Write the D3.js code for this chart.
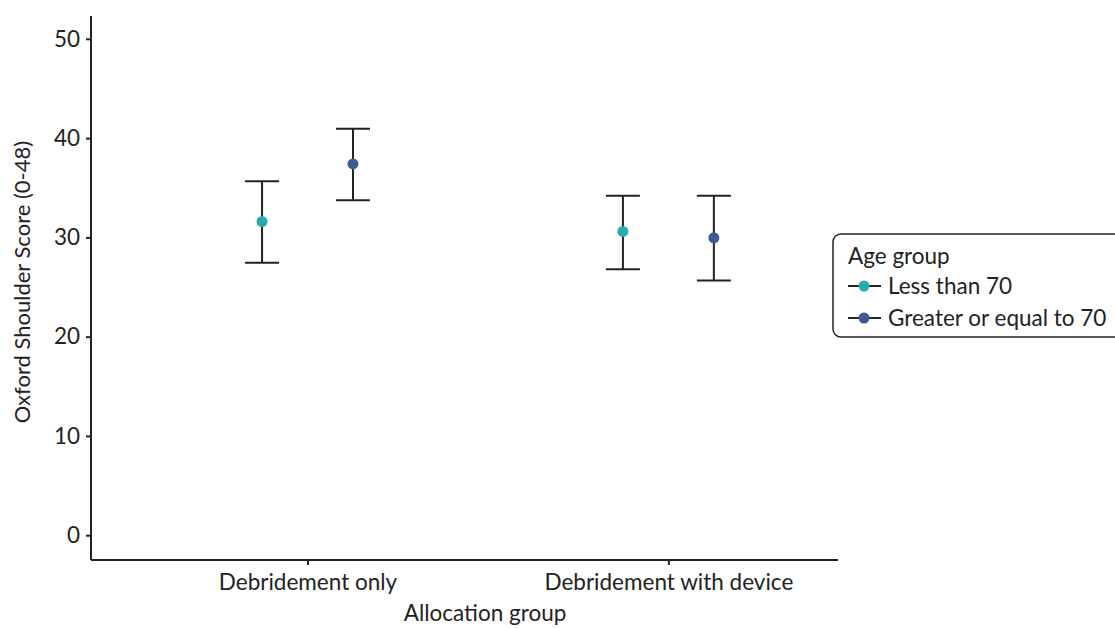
<!DOCTYPE html>
<html>
<head>
<meta charset="utf-8">
<script src="https://cdn.jsdelivr.net/npm/d3@7"></script>
<style>
  body { margin: 0; background: #fff; }
  svg { display: block; font-family: Lato, "Open Sans", sans-serif; }
  .axis path, .axis line { stroke: #222; stroke-width: 2; }
  .axis text { fill: #222; font-size: 22.5px; font-family: Lato, sans-serif; }
</style>
</head>
<body>
<div id="chart"></div>
<script>
// Data
const groups = ["Debridement only", "Debridement with device"];
const ageGroups = ["Less than 70", "Greater or equal to 70"];
const colors = ["#2aaab1", "#3e5a92"];
// mean, lower, upper per allocation group, one array per age group
const meanLess = [31.6, 30.6];
const lowerLess = [27.45, 26.8];
const upperLess = [35.65, 34.2];
const meanGreater = [37.4, 29.95];
const lowerGreater = [33.75, 25.65];
const upperGreater = [40.95, 34.2];
const yTicks = [0, 10, 20, 30, 40, 50];

const rows = [];
groups.forEach((g, i) => {
  rows.push({ group: g, gi: i, age: 0, mean: meanLess[i], lo: lowerLess[i], hi: upperLess[i] });
  rows.push({ group: g, gi: i, age: 1, mean: meanGreater[i], lo: lowerGreater[i], hi: upperGreater[i] });
});

const W = 1115, H = 628;
const svg = d3.select("#chart").append("svg").attr("width", W).attr("height", H);

const plotLeft = 91, plotRight = 838, plotTop = 16, plotBottom = 560;

// x: linear over category index (1, 2) with ggplot-like padding
const x = d3.scaleLinear().domain([0.4, 2.47]).range([plotLeft, plotRight]);
const dodge = 0.126;
const y = d3.scaleLinear().domain([-2.5, 52.3]).range([plotBottom, plotTop]);

// axes
svg.append("g").attr("class", "axis")
  .attr("transform", `translate(${plotLeft},0)`)
  .call(d3.axisLeft(y).tickValues(yTicks).tickSize(5).tickPadding(6))
  .call(g => g.select(".domain").attr("d", `M0,${plotBottom}V${plotTop}`));

svg.append("g").attr("class", "axis")
  .attr("transform", `translate(0,${plotBottom})`)
  .call(d3.axisBottom(x).tickValues([1, 2]).tickFormat((d, i) => groups[i]).tickSize(5).tickPadding(9))
  .call(g => g.select(".domain").attr("d", `M${plotLeft},0H${plotRight}`));

// axis titles
svg.append("text")
  .attr("transform", `translate(30,${(plotTop + plotBottom) / 2 - 6}) rotate(-90)`)
  .attr("text-anchor", "middle")
  .attr("font-size", 22).attr("fill", "#222")
  .text("Oxford Shoulder Score (0-48)");

svg.append("text")
  .attr("x", 485).attr("y", 621)
  .attr("text-anchor", "middle")
  .attr("font-size", 22.5).attr("fill", "#222")
  .text("Allocation group");

// error bars
const px = d => x(d.gi + 1 + (d.age === 0 ? -dodge : dodge));
const capW = 17;
const bars = svg.append("g").selectAll("g").data(rows).join("g");
bars.append("line")
  .attr("x1", px).attr("x2", px)
  .attr("y1", d => y(d.lo)).attr("y2", d => y(d.hi))
  .attr("stroke", "#222").attr("stroke-width", 2);
bars.append("line")
  .attr("x1", d => px(d) - capW).attr("x2", d => px(d) + capW)
  .attr("y1", d => y(d.hi)).attr("y2", d => y(d.hi))
  .attr("stroke", "#222").attr("stroke-width", 2);
bars.append("line")
  .attr("x1", d => px(d) - capW).attr("x2", d => px(d) + capW)
  .attr("y1", d => y(d.lo)).attr("y2", d => y(d.lo))
  .attr("stroke", "#222").attr("stroke-width", 2);
bars.append("circle")
  .attr("cx", px).attr("cy", d => y(d.mean))
  .attr("r", 5.5)
  .attr("fill", d => colors[d.age]);

// legend
const lg = svg.append("g").attr("transform", "translate(833,234)");
lg.append("rect")
  .attr("x", 0).attr("y", 0).attr("width", 300).attr("height", 103)
  .attr("rx", 8)
  .attr("fill", "#fff").attr("stroke", "#222").attr("stroke-width", 1.5);
lg.append("text")
  .attr("x", 15).attr("y", 30)
  .attr("font-size", 22.5).attr("fill", "#222")
  .text("Age group");
ageGroups.forEach((a, i) => {
  const cy = 52 + i * 32;
  lg.append("line")
    .attr("x1", 15).attr("x2", 48).attr("y1", cy).attr("y2", cy)
    .attr("stroke", "#222").attr("stroke-width", 2);
  lg.append("circle")
    .attr("cx", 31).attr("cy", cy).attr("r", 5.5).attr("fill", colors[i]);
  lg.append("text")
    .attr("x", 55).attr("y", cy + 8)
    .attr("font-size", 22.5).attr("fill", "#222")
    .text(a);
});
</script>
</body>
</html>
